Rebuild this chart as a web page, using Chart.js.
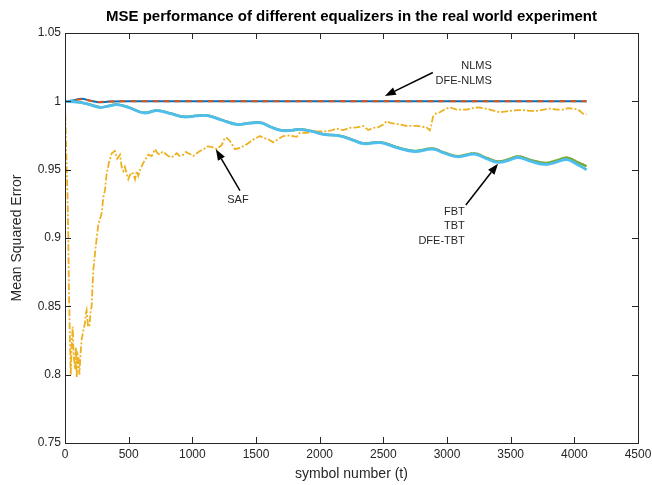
<!DOCTYPE html>
<html>
<head>
<meta charset="utf-8">
<script src="https://cdn.jsdelivr.net/npm/chart.js@4"></script>
<style>
  html, body { margin: 0; padding: 0; background: #fff; }
  #wrap { width: 652px; height: 485px; }
</style>
</head>
<body>
<div id="wrap"><canvas id="myChart" width="652" height="485"></canvas></div>
<script>
// x tick labels / axis range
var xTicks = [0, 500, 1000, 1500, 2000, 2500, 3000, 3500, 4000, 4500];
var yTicks = [0.75, 0.8, 0.85, 0.9, 0.95, 1, 1.05];

// NLMS
var nlmsT = [0, 60, 130, 200, 260, 350, 500, 1000, 2000, 3000, 4096];
var nlmsV = [1.0, 1.0006, 1.0018, 1.0004, 0.9994, 0.9998, 1.0, 1.0, 1.0, 1.0, 1.0];

// DFE-NLMS
var dfeNlmsT = [0, 60, 130, 200, 260, 350, 500, 1000, 2000, 3000, 4096];
var dfeNlmsV = [1.0, 1.0006, 1.0016, 1.0004, 0.9996, 0.9999, 1.0, 1.0, 1.0, 1.0, 1.0];

// SAF
var safT = [0, 8, 15, 20, 26, 31, 38, 45, 52, 60, 68, 79, 86, 92, 99, 105, 113, 122, 131, 144,
  157, 165, 170, 180, 191, 200, 209, 222, 240, 262, 288, 301, 314, 327, 345, 367, 392, 410, 432, 445,
  458, 470, 497, 510, 523, 536, 550, 563, 575, 590, 615, 635, 654, 681, 707, 727, 746, 765, 785, 810,
  838, 877, 900, 929, 950, 968, 990, 1007, 1035, 1060, 1090, 1112, 1152, 1191, 1230, 1256, 1275, 1295, 1335, 1374,
  1426, 1478, 1531, 1557, 1600, 1635, 1670, 1714, 1760, 1819, 1845, 1900, 1976, 2054, 2100, 2133, 2185, 2237, 2290, 2342,
  2381, 2420, 2460, 2499, 2525, 2560, 2604, 2682, 2761, 2800, 2839, 2865, 2875, 2891, 2918, 2944, 2980, 3022, 3075, 3153,
  3200, 3244, 3290, 3336, 3415, 3493, 3550, 3598, 3650, 3703, 3760, 3807, 3860, 3912, 3950, 3990, 4030, 4069, 4096];
var safV = [1.0, 0.97, 0.945, 0.93, 0.90, 0.86, 0.83, 0.80, 0.82, 0.835, 0.815, 0.804, 0.82, 0.798, 0.815, 0.8135, 0.800, 0.815, 0.826, 0.832,
  0.838, 0.845, 0.847, 0.836, 0.835, 0.845, 0.85, 0.876, 0.893, 0.910, 0.918, 0.930, 0.935, 0.947, 0.955, 0.962, 0.9637, 0.958, 0.961, 0.952,
  0.949, 0.952, 0.943, 0.946, 0.948, 0.947, 0.943, 0.949, 0.9455, 0.950, 0.955, 0.958, 0.961, 0.960, 0.965, 0.962, 0.961, 0.963, 0.962, 0.960,
  0.959, 0.962, 0.960, 0.961, 0.963, 0.962, 0.961, 0.960, 0.962, 0.9637, 0.965, 0.967, 0.9666, 0.965, 0.968, 0.9733, 0.973, 0.971, 0.965, 0.966,
  0.9685, 0.972, 0.9746, 0.9733, 0.972, 0.970, 0.972, 0.9746, 0.975, 0.974, 0.977, 0.977, 0.978, 0.978, 0.979, 0.980, 0.979, 0.9806, 0.981, 0.982,
  0.979, 0.9806, 0.981, 0.983, 0.9855, 0.984, 0.9835, 0.982, 0.982, 0.9815, 0.981, 0.9787, 0.982, 0.989, 0.9915, 0.992, 0.994, 0.9956, 0.994, 0.994,
  0.995, 0.9956, 0.995, 0.994, 0.992, 0.993, 0.9935, 0.9935, 0.993, 0.993, 0.994, 0.9947, 0.994, 0.994, 0.995, 0.9947, 0.994, 0.991, 0.9905];

// FBT / TBT / DFE-TBT
var tbtT = [0, 100, 180, 276, 340, 408, 500, 618, 724, 830, 934, 1030, 1118, 1240, 1355, 1450, 1540, 1620, 1697, 1776,
  1846, 1940, 2031, 2163, 2250, 2347, 2479, 2610, 2743, 2888, 2980, 3085, 3218, 3310, 3403, 3490, 3561, 3660, 3772, 3860,
  3943, 4020, 4096];
var dfeTbtV = [1.0, 0.9995, 0.998, 0.9956, 0.9965, 0.9976, 0.9955, 0.9915, 0.9932, 0.991, 0.9886, 0.9893, 0.9896, 0.986, 0.983, 0.984, 0.9843, 0.981, 0.9787, 0.9787,
  0.9795, 0.978, 0.9758, 0.9746, 0.972, 0.969, 0.9698, 0.966, 0.9633, 0.965, 0.962, 0.9594, 0.9614, 0.958, 0.9553, 0.957, 0.9589, 0.956, 0.9538, 0.9555,
  0.9574, 0.954, 0.950];
var tbtV = [1.0, 0.9995, 0.998, 0.9957, 0.9966, 0.9977, 0.9956, 0.9916, 0.9933, 0.9911, 0.9887, 0.9894, 0.9897, 0.9861, 0.9831, 0.9841, 0.9844, 0.9811, 0.9788, 0.9788,
  0.9796, 0.9781, 0.9759, 0.9747, 0.9721, 0.9692, 0.9700, 0.9663, 0.9636, 0.9654, 0.9624, 0.9598, 0.9619, 0.9586, 0.9560, 0.9578, 0.9597, 0.9570, 0.9548, 0.9567,
  0.9587, 0.9557, 0.9524];
var fbtV = [1.0, 0.9996, 0.9981, 0.9959, 0.9968, 0.9979, 0.9958, 0.9919, 0.9935, 0.9914, 0.9890, 0.9897, 0.9900, 0.9864, 0.9834, 0.9844, 0.9847, 0.9814, 0.9791, 0.9791,
  0.9799, 0.9784, 0.9762, 0.9750, 0.9724, 0.9695, 0.9703, 0.9666, 0.9639, 0.9657, 0.9627, 0.9601, 0.9622, 0.9589, 0.9563, 0.9581, 0.9600, 0.9573, 0.9551, 0.9570,
  0.9590, 0.9560, 0.9527];

// annotations (data units)
var notes = [
  { lines: ['NLMS', 'DFE-NLMS'], t: 3352, v: 1.0257, align: 'right', tail: [2889, 1.0211], head: [2512, 1.0039] },
  { lines: ['SAF'], t: 1358, v: 0.928, align: 'center', tail: [1374, 0.9346], head: [1185, 0.9649] },
  { lines: ['FBT', 'TBT', 'DFE-TBT'], t: 3140, v: 0.9193, align: 'right', tail: [3148, 0.9242], head: [3401, 0.9544] }
];

var titleText = 'MSE performance of different equalizers in the real world experiment';

function pts(ts, vs) {
  return ts.map(function (t, i) { return { x: t, y: vs[i] }; });
}

var FONT = '"Liberation Sans", Arial, Helvetica, sans-serif';

var matlabAxes = {
  id: 'matlabAxes',
  afterDatasetsDraw: function (chart) {
    var ctx = chart.ctx, xs = chart.scales.x, ys = chart.scales.y;
    var a2 = chart.chartArea;
    ctx.save();
    // title, centred over the axes
    ctx.fillStyle = '#000';
    ctx.font = 'bold 15px ' + FONT;
    ctx.textAlign = 'center';
    ctx.textBaseline = 'middle';
    ctx.fillText(titleText, (a2.left + a2.right) / 2, 17);
    // annotations
    ctx.fillStyle = '#262626';
    ctx.strokeStyle = '#000';
    ctx.font = '11px ' + FONT;
    notes.forEach(function (n) {
      var px = xs.getPixelForValue(n.t), py = ys.getPixelForValue(n.v);
      ctx.textAlign = n.align;
      n.lines.forEach(function (s, i) { ctx.fillText(s, px, py + i * 14.5); });
      var x1 = xs.getPixelForValue(n.tail[0]), y1 = ys.getPixelForValue(n.tail[1]);
      var x2 = xs.getPixelForValue(n.head[0]), y2 = ys.getPixelForValue(n.head[1]);
      var a = Math.atan2(y2 - y1, x2 - x1), L = 11, W = 4;
      var bx = x2 - L * Math.cos(a), by = y2 - L * Math.sin(a);
      ctx.lineWidth = 1.5;
      ctx.beginPath(); ctx.moveTo(x1, y1); ctx.lineTo(bx, by); ctx.stroke();
      ctx.fillStyle = '#000';
      ctx.beginPath();
      ctx.moveTo(x2, y2);
      ctx.lineTo(bx + W * Math.sin(a), by - W * Math.cos(a));
      ctx.lineTo(bx - W * Math.sin(a), by + W * Math.cos(a));
      ctx.closePath(); ctx.fill();
      ctx.fillStyle = '#262626';
    });
    // box and inward ticks
    ctx.strokeStyle = '#262626';
    ctx.lineWidth = 1;
    ctx.strokeRect(Math.round(a2.left) + 0.5, Math.round(a2.top) + 0.5,
      Math.round(a2.right - a2.left), Math.round(a2.bottom - a2.top));
    ctx.beginPath();
    xTicks.forEach(function (t) {
      var x = Math.round(xs.getPixelForValue(t)) + 0.5;
      ctx.moveTo(x, a2.bottom); ctx.lineTo(x, a2.bottom - 6);
      ctx.moveTo(x, a2.top); ctx.lineTo(x, a2.top + 6);
    });
    yTicks.forEach(function (v) {
      var y = Math.round(ys.getPixelForValue(v)) + 0.5;
      ctx.moveTo(a2.left, y); ctx.lineTo(a2.left + 6, y);
      ctx.moveTo(a2.right, y); ctx.lineTo(a2.right - 6, y);
    });
    ctx.stroke();
    ctx.restore();
  }
};

var ctx = document.getElementById('myChart').getContext('2d');
var myChart = new Chart(ctx, {
  type: 'line',
  data: {
    datasets: [
      { label: 'NLMS', data: pts(nlmsT, nlmsV), borderColor: '#0072BD', borderWidth: 2, tension: 0.4, order: 6 },
      { label: 'DFE-NLMS', data: pts(dfeNlmsT, dfeNlmsV), borderColor: '#D95319', borderWidth: 2, borderDash: [6, 5], tension: 0.4, order: 5 },
      { label: 'SAF', data: pts(safT, safV), borderColor: '#EDB120', borderWidth: 1.8, borderDash: [7, 2, 2, 2], tension: 0, order: 4 },
      { label: 'FBT', data: pts(tbtT, fbtV), borderColor: '#7E2F8E', borderWidth: 1.5, borderDash: [1, 2], tension: 0.4, order: 3 },
      { label: 'TBT', data: pts(tbtT, tbtV), borderColor: '#77AC30', borderWidth: 2.5, tension: 0.4, order: 2 },
      { label: 'DFE-TBT', data: pts(tbtT, dfeTbtV), borderColor: '#4DBEEE', borderWidth: 2.8, tension: 0.4, order: 1 }
    ]
  },
  options: {
    responsive: false,
    animation: false,
    elements: { point: { radius: 0 } },
    layout: { padding: { top: 33, left: 0, right: 14, bottom: 0 } },
    plugins: {
      legend: { display: false },
      tooltip: { enabled: false },
      title: { display: false }
    },
    scales: {
      x: {
        type: 'linear', min: 0, max: 4500,
        afterFit: function (s) { s.height = 42; s.paddingRight = 0; s.paddingLeft = 0; },
        grid: { display: false, drawTicks: false },
        border: { display: false },
        ticks: {
          stepSize: 500, padding: 4, color: '#262626', maxRotation: 0,
          font: { family: FONT, size: 12 },
          callback: function (v) { return String(v); }
        },
        title: {
          display: true, text: 'symbol number (t)', color: '#262626',
          font: { family: FONT, size: 14 }, padding: { top: 0, bottom: 2 }
        }
      },
      y: {
        min: 0.75, max: 1.05,
        afterFit: function (s) { s.width = 65; },
        grid: { display: false, drawTicks: false },
        border: { display: false },
        ticks: {
          stepSize: 0.05, padding: 4, color: '#262626',
          font: { family: FONT, size: 12 },
          callback: function (v) { return String(+v.toFixed(2)); }
        },
        title: {
          display: true, text: 'Mean Squared Error', color: '#262626',
          font: { family: FONT, size: 14 }, padding: { top: 9, bottom: 0 }
        }
      }
    }
  },
  plugins: [matlabAxes]
});
</script>
</body>
</html>
